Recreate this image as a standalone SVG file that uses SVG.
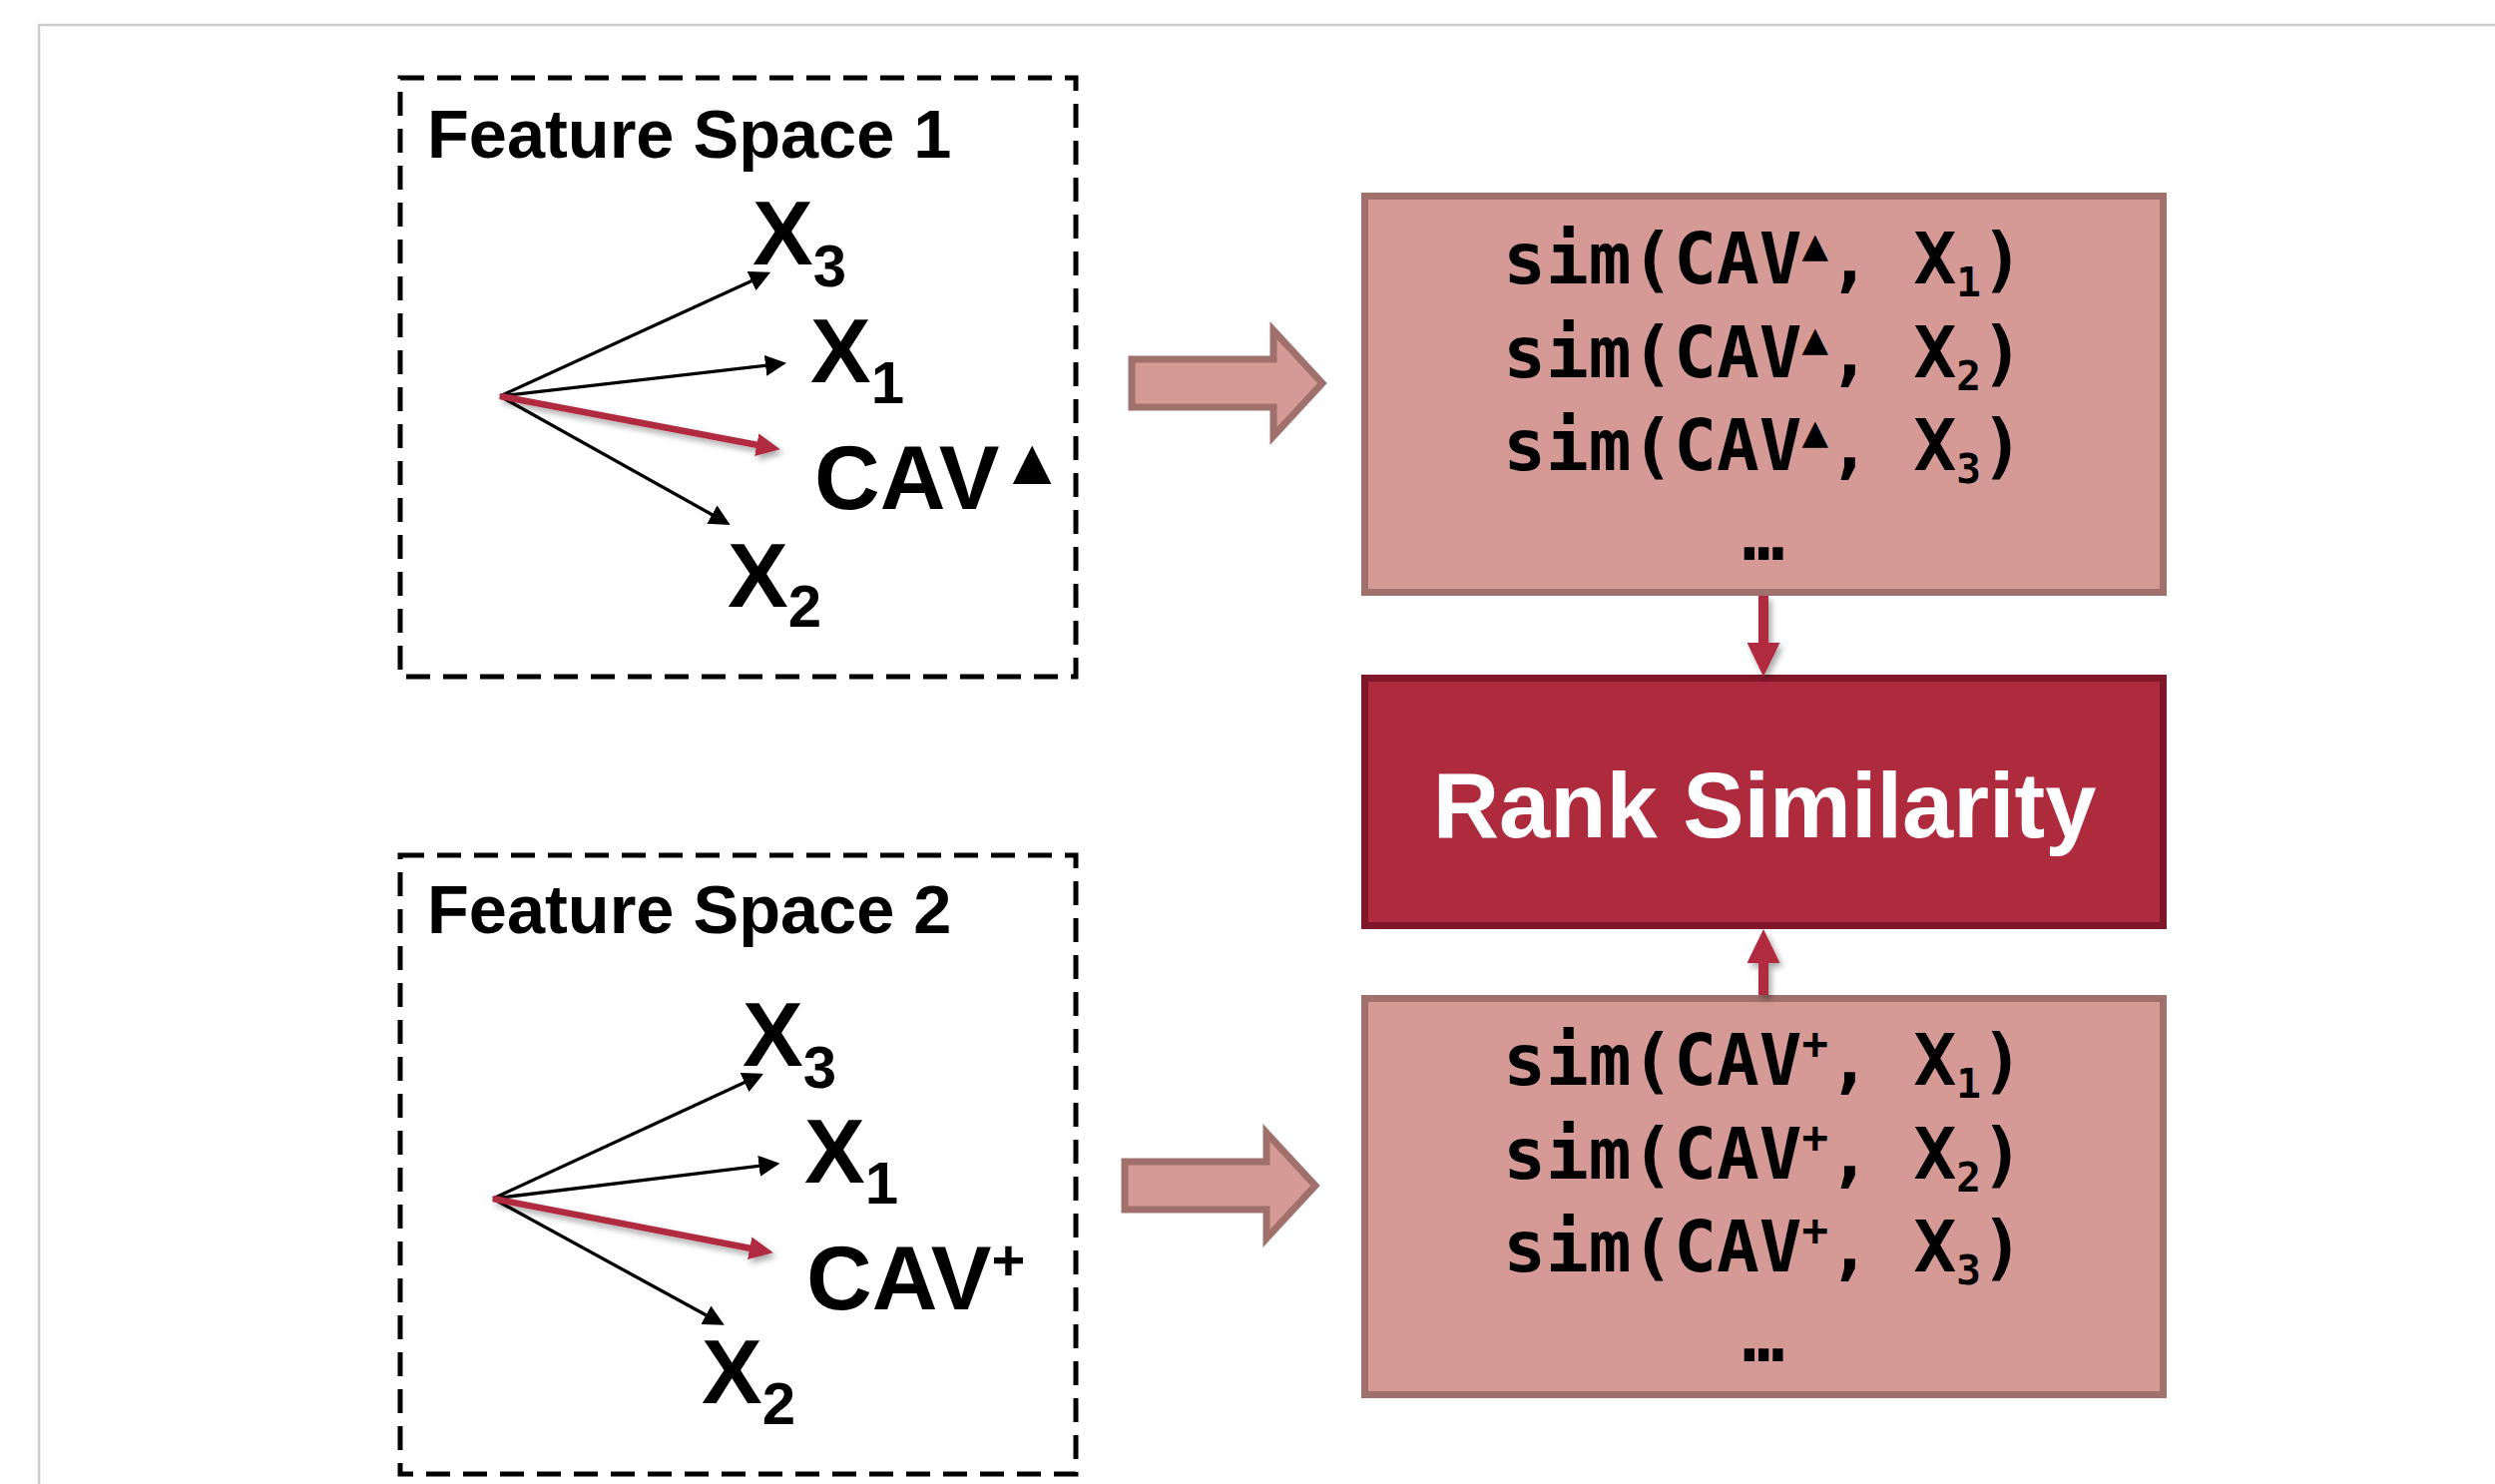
<svg xmlns="http://www.w3.org/2000/svg" width="2500" height="1487" viewBox="0 0 2500 1487">
<style>
.frame{fill:none;stroke:#cbcbcb;stroke-width:2.5}
.dash{fill:none;stroke:#000;stroke-width:5;stroke-dasharray:24,13}
.title{font-family:"Liberation Sans",Arial,sans-serif;font-weight:bold;font-size:68.5px;fill:#000}
.lbl{font-family:"Liberation Sans",Arial,sans-serif;font-weight:bold;font-size:91px;fill:#000}
.sub{font-size:60px}
.sup{font-size:58px}
.tri{font-size:66px}
.vec{stroke:#000;stroke-width:3.3;fill:none}
.cav{stroke:#b02b40;stroke-width:6.5;fill:none}
.simbox{fill:#d59a96;stroke:#a0716c;stroke-width:7}
.rankbox{fill:#ae2b3e;stroke:#80162a;stroke-width:7}
.blk{fill:#d59a96;stroke:#a0716c;stroke-width:7;stroke-linejoin:miter}
.mono{font-family:"DejaVu Sans Mono","Liberation Mono",monospace;font-weight:bold;font-size:71px;fill:#000;text-anchor:middle}
.msub{font-size:41px}
.msup{font-size:44px}
.rank{font-family:"Liberation Sans",Arial,sans-serif;font-weight:bold;font-size:92px;fill:#fff;text-anchor:middle}
.link{stroke:#b02b40;stroke-width:10;fill:none}
</style>
<defs>
<marker id="hb" markerUnits="userSpaceOnUse" markerWidth="21" markerHeight="21" refX="11" refY="10.5" orient="auto" viewBox="0 0 21 21">
<path d="M0,0 L21,10.5 L0,21 z" fill="#000"/>
</marker>
<marker id="hr" markerUnits="userSpaceOnUse" markerWidth="24" markerHeight="23" refX="12" refY="11.5" orient="auto" viewBox="0 0 24 23">
<path d="M0,0 L24,11.5 L0,23 z" fill="#b02b40"/>
</marker>
<marker id="hl" markerUnits="userSpaceOnUse" markerWidth="34" markerHeight="33" refX="4" refY="16.5" orient="auto" viewBox="0 0 34 33">
<path d="M0,0 L34,16.5 L0,33 z" fill="#b02b40"/>
</marker>
<filter id="sh" filterUnits="userSpaceOnUse" x="0" y="0" width="2500" height="1487">
<feDropShadow dx="3" dy="4" stdDeviation="3" flood-color="#000" flood-opacity="0.35"/>
</filter>
</defs>
<polyline class="frame" points="39,1490 39,25 2503,25"/>

<g id="fs1">
<rect class="dash" x="401" y="78" width="677" height="600"/>
<text class="title" x="428" y="158">Feature Space 1</text>
<text class="lbl" x="754" y="265">X<tspan class="sub" dy="22">3</tspan></text>
<text class="lbl" x="812" y="383">X<tspan class="sub" dy="21">1</tspan></text>
<text class="lbl" x="816" y="510">CAV<tspan class="tri" dy="-25">▲</tspan></text>
<text class="lbl" x="729" y="608">X<tspan class="sub" dy="20">2</tspan></text>
</g>

<g id="fs2">
<rect class="dash" x="401" y="857" width="677" height="620"/>
<text class="title" x="428" y="935">Feature Space 2</text>
<text class="lbl" x="744" y="1068">X<tspan class="sub" dy="22">3</tspan></text>
<text class="lbl" x="806" y="1185">X<tspan class="sub" dy="21">1</tspan></text>
<text class="lbl" x="808" y="1312">CAV<tspan class="sup" dy="-29">+</tspan></text>
<text class="lbl" x="703" y="1406">X<tspan class="sub" dy="21">2</tspan></text>
</g>

<g id="sim1">
<rect class="simbox" x="1367.5" y="196.5" width="800" height="397"/>
<text class="mono" x="1767" y="284">sim(CAV<tspan class="msup" dy="-24">▲</tspan><tspan dy="24">, X</tspan><tspan class="msub" dy="13">1</tspan><tspan dy="-13">)</tspan></text>
<text class="mono" x="1767" y="377.5">sim(CAV<tspan class="msup" dy="-24">▲</tspan><tspan dy="24">, X</tspan><tspan class="msub" dy="13">2</tspan><tspan dy="-13">)</tspan></text>
<text class="mono" x="1767" y="471">sim(CAV<tspan class="msup" dy="-24">▲</tspan><tspan dy="24">, X</tspan><tspan class="msub" dy="13">3</tspan><tspan dy="-13">)</tspan></text>
<text class="mono" x="1767" y="561">…</text>
</g>

<g id="rank">
<rect class="rankbox" x="1367.5" y="679.5" width="800" height="248"/>
<text class="rank" x="1768" y="839">Rank Similarity</text>
</g>

<g id="sim2">
<rect class="simbox" x="1367.5" y="1000.5" width="800" height="397"/>
<text class="mono" x="1767" y="1087">sim(CAV<tspan class="msup" dy="-26">+</tspan><tspan dy="26">, X</tspan><tspan class="msub" dy="13">1</tspan><tspan dy="-13">)</tspan></text>
<text class="mono" x="1767" y="1180.5">sim(CAV<tspan class="msup" dy="-26">+</tspan><tspan dy="26">, X</tspan><tspan class="msub" dy="13">2</tspan><tspan dy="-13">)</tspan></text>
<text class="mono" x="1767" y="1274">sim(CAV<tspan class="msup" dy="-26">+</tspan><tspan dy="26">, X</tspan><tspan class="msub" dy="13">3</tspan><tspan dy="-13">)</tspan></text>
<text class="mono" x="1767" y="1364">…</text>
</g>

<g id="connectors">
<line class="vec" x1="501" y1="397" x2="763" y2="277" marker-end="url(#hb)"/>
<line class="vec" x1="501" y1="397" x2="778" y2="365" marker-end="url(#hb)"/>
<line class="vec" x1="501" y1="397" x2="723" y2="521" marker-end="url(#hb)"/>
<line class="cav" filter="url(#sh)" x1="501" y1="397" x2="770" y2="448" marker-end="url(#hr)"/>

<line class="vec" x1="494" y1="1201" x2="756" y2="1080" marker-end="url(#hb)"/>
<line class="vec" x1="494" y1="1201" x2="771.5" y2="1167" marker-end="url(#hb)"/>
<line class="vec" x1="494" y1="1201" x2="717" y2="1323" marker-end="url(#hb)"/>
<line class="cav" filter="url(#sh)" x1="494" y1="1201" x2="763" y2="1253" marker-end="url(#hr)"/>

<polygon class="blk" points="1134,360 1276,360 1276,331 1325,384 1276,437 1276,408 1134,408"/>
<polygon class="blk" points="1127,1164 1269,1164 1269,1135 1318,1188 1269,1241 1269,1212 1127,1212"/>

<line class="link" filter="url(#sh)" x1="1767" y1="597" x2="1767" y2="648" marker-end="url(#hl)"/>
<line class="link" filter="url(#sh)" x1="1767" y1="997" x2="1767" y2="961" marker-end="url(#hl)"/>
</g>
</svg>
